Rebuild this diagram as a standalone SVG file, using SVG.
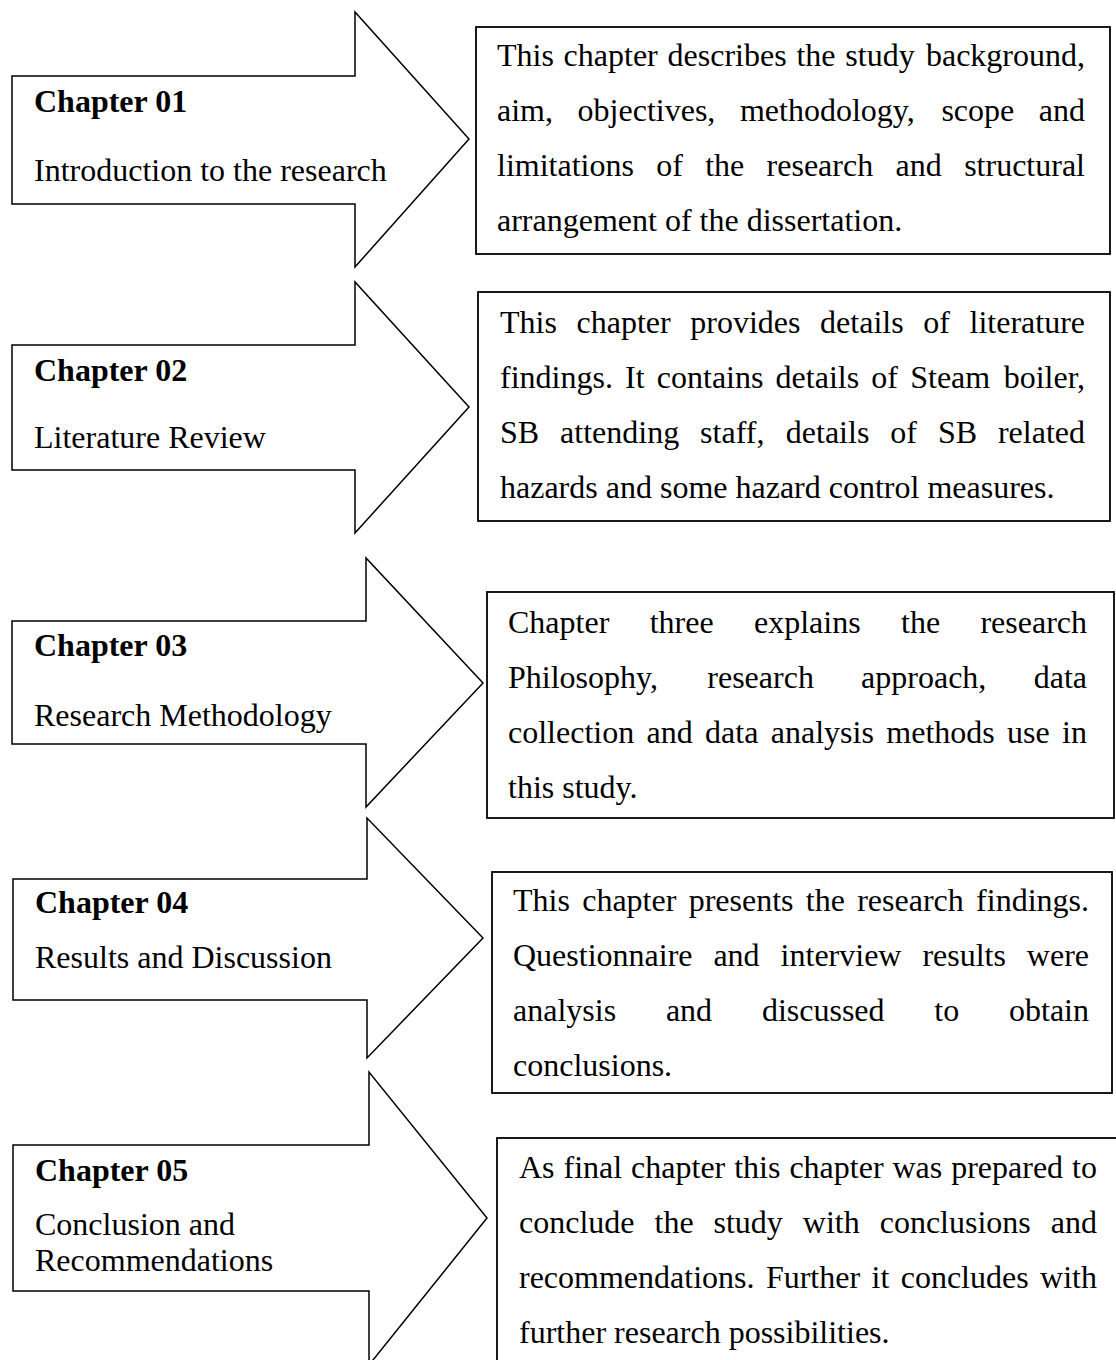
<svg xmlns="http://www.w3.org/2000/svg" width="1116" height="1360" viewBox="0 0 1116 1360">
  <style>
    .arrow { fill: #fff; stroke: #000; stroke-width: 1.5; stroke-linejoin: miter; }
    .box { fill: #fff; stroke: #000; stroke-width: 1.8; }
    text { font-family: "Liberation Serif", "Times New Roman", serif; font-size: 32px; fill: #000; }
    .title { font-weight: bold; }
    .end { text-anchor: end; }
  </style>
  <rect width="1116" height="1360" fill="#fff"/>

  <!-- Chapter arrows -->
  <g id="chapter01">
    <polygon class="arrow" points="12,76 355,76 355,12 469,139 355,267 355,204 12,204"/>
    <text class="title" x="34" y="112">Chapter 01</text>
    <text x="34" y="181">Introduction to the research</text>
  </g>
  <g id="chapter02">
    <polygon class="arrow" points="12,345 355,345 355,282 469,407 355,533 355,470 12,470"/>
    <text class="title" x="34" y="381">Chapter 02</text>
    <text x="34" y="448">Literature Review</text>
  </g>
  <g id="chapter03">
    <polygon class="arrow" points="12,621 366,621 366,558 483,683 366,807 366,744 12,744"/>
    <text class="title" x="34" y="656">Chapter 03</text>
    <text x="34" y="726">Research Methodology</text>
  </g>
  <g id="chapter04">
    <polygon class="arrow" points="13,879 367,879 367,818 483,938 367,1058 367,1000 13,1000"/>
    <text class="title" x="35" y="913">Chapter 04</text>
    <text x="35" y="968">Results and Discussion</text>
  </g>
  <g id="chapter05">
    <polygon class="arrow" points="13,1145 369,1145 369,1072 487,1218 369,1365 369,1291 13,1291"/>
    <text class="title" x="35" y="1181">Chapter 05</text>
    <text x="35" y="1235">Conclusion and</text>
    <text x="35" y="1271">Recommendations</text>
  </g>

  <!-- Chapter summaries (justified word by word) -->
  <g id="summary01">
    <rect class="box" x="476" y="27" width="634" height="227"/>
    <text y="66"><tspan x="497">This</tspan><tspan x="563.6">chapter</tspan><tspan x="667.6">describes</tspan><tspan x="796.4">the</tspan><tspan x="845.3">study</tspan></text>
    <text class="end" x="1085" y="66">background,</text>
    <text y="121"><tspan x="497">aim,</tspan><tspan x="577.6">objectives,</tspan><tspan x="739.9">methodology,</tspan><tspan x="941.4">scope</tspan></text>
    <text class="end" x="1085" y="121">and</text>
    <text y="176"><tspan x="497">limitations</tspan><tspan x="656.2">of</tspan><tspan x="705.2">the</tspan><tspan x="766.6">research</tspan><tspan x="895.6">and</tspan></text>
    <text class="end" x="1085" y="176">structural</text>
    <text x="497" y="231">arrangement of the dissertation.</text>
  </g>

  <g id="summary02">
    <rect class="box" x="478" y="292" width="632" height="229"/>
    <text y="333"><tspan x="500">This</tspan><tspan x="576.5">chapter</tspan><tspan x="690.3">provides</tspan><tspan x="820.1">details</tspan><tspan x="923.2">of</tspan></text>
    <text class="end" x="1085" y="333">literature</text>
    <text y="388"><tspan x="500">findings.</tspan><tspan x="625.1">It</tspan><tspan x="656.8">contains</tspan><tspan x="775.6">details</tspan><tspan x="871.3">of</tspan><tspan x="910.2">Steam</tspan></text>
    <text class="end" x="1085" y="388">boiler,</text>
    <text y="443"><tspan x="500">SB</tspan><tspan x="560.1">attending</tspan><tspan x="700.1">staff,</tspan><tspan x="785.8">details</tspan><tspan x="890.3">of</tspan><tspan x="937.9">SB</tspan></text>
    <text class="end" x="1085" y="443">related</text>
    <text x="500" y="498">hazards and some hazard control measures.</text>
  </g>

  <g id="summary03">
    <rect class="box" x="487" y="592" width="627" height="226"/>
    <text y="633"><tspan x="508">Chapter</tspan><tspan x="649.7">three</tspan><tspan x="754">explains</tspan><tspan x="901">the</tspan></text>
    <text class="end" x="1087" y="633">research</text>
    <text y="688"><tspan x="508">Philosophy,</tspan><tspan x="707.3">research</tspan><tspan x="861.1">approach,</tspan></text>
    <text class="end" x="1087" y="688">data</text>
    <text y="743"><tspan x="508">collection</tspan><tspan x="646.6">and</tspan><tspan x="705.1">data</tspan><tspan x="770.8">analysis</tspan><tspan x="886.3">methods</tspan><tspan x="1007.1">use</tspan></text>
    <text class="end" x="1087" y="743">in</text>
    <text x="508" y="798">this study.</text>
  </g>

  <g id="summary04">
    <rect class="box" x="492" y="872" width="620" height="221"/>
    <text y="911"><tspan x="513">This</tspan><tspan x="582.2">chapter</tspan><tspan x="688.7">presents</tspan><tspan x="805.8">the</tspan><tspan x="857.2">research</tspan></text>
    <text class="end" x="1089" y="911">findings.</text>
    <text y="966"><tspan x="513">Questionnaire</tspan><tspan x="713.4">and</tspan><tspan x="780.6">interview</tspan><tspan x="922.4">results</tspan></text>
    <text class="end" x="1089" y="966">were</text>
    <text y="1021"><tspan x="513">analysis</tspan><tspan x="665.9">and</tspan><tspan x="761.9">discussed</tspan><tspan x="934.3">to</tspan></text>
    <text class="end" x="1089" y="1021">obtain</text>
    <text x="513" y="1076">conclusions.</text>
  </g>

  <g id="summary05">
    <rect class="box" x="497" y="1138" width="640" height="240"/>
    <text y="1178"><tspan x="519">As</tspan><tspan x="563.5">final</tspan><tspan x="631.1">chapter</tspan><tspan x="734.2">this</tspan><tspan x="789.4">chapter</tspan><tspan x="892.5">was</tspan><tspan x="951.2">prepared</tspan></text>
    <text class="end" x="1097" y="1178">to</text>
    <text y="1233"><tspan x="519">conclude</tspan><tspan x="654.5">the</tspan><tspan x="713.5">study</tspan><tspan x="802.8">with</tspan><tspan x="879.7">conclusions</tspan></text>
    <text class="end" x="1097" y="1233">and</text>
    <text y="1288"><tspan x="519">recommendations.</tspan><tspan x="765.9">Further</tspan><tspan x="871.5">it</tspan><tspan x="900.7">concludes</tspan></text>
    <text class="end" x="1097" y="1288">with</text>
    <text x="519" y="1343">further research possibilities.</text>
  </g>
</svg>
